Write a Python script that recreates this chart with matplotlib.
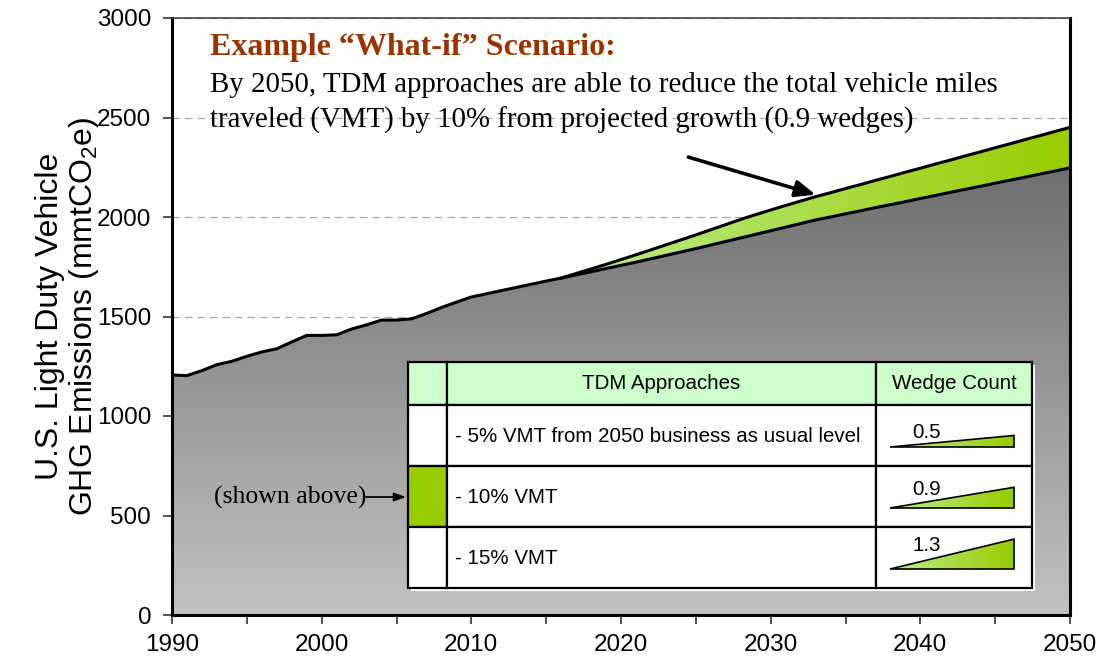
import numpy as np
import matplotlib.pyplot as plt
from matplotlib.colors import LinearSegmentedColormap
from matplotlib.patches import Rectangle, Polygon, PathPatch

plt.rcParams['font.family'] = ['Liberation Sans', 'DejaVu Sans']
plt.rcParams['mathtext.fontset'] = 'custom'
plt.rcParams['mathtext.rm'] = 'Liberation Sans'
plt.rcParams['mathtext.default'] = 'regular'

# business-as-usual emissions (mmtCO2e), 1990-2050
years = list(range(1990, 2051))
base = [1206, 1203, 1228, 1258, 1275, 1300, 1322, 1338, 1372, 1405,
        1405, 1408, 1437, 1458, 1482, 1482, 1488, 1515, 1545, 1572,
        1598, 1614, 1630, 1646, 1662, 1678, 1693, 1709, 1725, 1741,
        1757, 1773, 1790, 1807, 1824, 1841, 1859, 1877, 1895, 1913,
        1931, 1949, 1967, 1985, 2000, 2016, 2031, 2047, 2062, 2077,
        2093, 2108, 2124, 2139, 2154, 2170, 2185, 2200, 2216, 2231,
        2247]
# projected growth without the TDM wedge, 2016-2050
years_top = list(range(2016, 2051))
top = [1693, 1716, 1739, 1762, 1786, 1810, 1835, 1860, 1885, 1910,
       1936, 1962, 1988, 2012, 2035, 2058, 2080, 2102, 2122, 2143,
       2163, 2184, 2204, 2225, 2245, 2266, 2286, 2307, 2327, 2348,
       2368, 2389, 2409, 2430, 2450]

# table
approaches = ['- 5% VMT from 2050 business as usual level', '- 10% VMT', '- 15% VMT']
wedges = [0.5, 0.9, 1.3]
shown = 1

fig = plt.figure(figsize=(11.04, 6.65), dpi=100)
W, H = 1104, 665
ax = fig.add_axes([172 / W, 1 - 615 / H, (1070 - 172) / W, (615 - 18) / H])

gray_cm = LinearSegmentedColormap.from_list('g', ['#c2c2c2', '#6c6c6c'])
green_cm = LinearSegmentedColormap.from_list('gr', ['#bdeb8f', '#99cc00'])

# gray area with vertical gradient
poly = ax.fill_between(years, 0, base, color='none', lw=0)
clip = PathPatch(poly.get_paths()[0], transform=ax.transData, fc='none', ec='none')
ax.add_patch(clip)
grad = np.linspace(0, 1, 256).reshape(-1, 1)
im = ax.imshow(grad, extent=[1990, 2050, 0, 2300], origin='lower', aspect='auto',
               cmap=gray_cm, zorder=2)
im.set_clip_path(clip)

# green wedge with horizontal gradient
base_sub = base[years.index(2016):]
poly2 = ax.fill_between(years_top, base_sub, top, color='none', lw=0)
clip2 = PathPatch(poly2.get_paths()[0], transform=ax.transData, fc='none', ec='none')
ax.add_patch(clip2)
im2 = ax.imshow(grad.T, extent=[2016, 2050, 1600, 2500], origin='lower', aspect='auto',
                cmap=green_cm, zorder=2)
im2.set_clip_path(clip2)

ax.plot(years, base, color='k', lw=2.2, zorder=3, solid_joinstyle='round')
ax.plot(years_top, top, color='k', lw=2.2, zorder=3, solid_joinstyle='round')

ax.set_xlim(1990, 2050)
ax.set_ylim(0, 3000)
ax.set_xticks(range(1990, 2051, 10))
ax.set_xticks(range(1995, 2050, 10), minor=True)
ax.set_yticks(range(0, 3001, 500))
ax.tick_params(axis='both', which='both', direction='out', length=6.5, width=1.2,
               labelsize=17.5, color='#333333')
ax.tick_params(axis='x', pad=7)
ax.tick_params(axis='y', pad=8.5)
ax.yaxis.grid(True, linestyle=(0, (6, 4)), color='#a8a8a8', lw=0.9)
ax.set_axisbelow(True)
for s in ['left', 'bottom', 'right']:
    ax.spines[s].set_linewidth(2.2)
ax.spines['top'].set_linewidth(1.2)
ax.spines['top'].set_color('#444444')
for s in ax.spines.values():
    s.set_zorder(5)

ax.set_ylabel('U.S. Light Duty Vehicle\nGHG Emissions (mmtCO$_2$e)', fontsize=23,
              linespacing=1.1)
ax.yaxis.set_label_coords(-0.079, 0.5)

fig.text(210 / W, 1 - 48 / H, 'Example \u201cWhat-if\u201d Scenario:', family='Liberation Serif',
         fontsize=23, fontweight='bold', color='#993300', va='center')
fig.text(210 / W, 1 - 85 / H, 'By 2050, TDM approaches are able to reduce the total vehicle miles',
         family='Liberation Serif', fontsize=20.8, va='center')
fig.text(210 / W, 1 - 120 / H, 'traveled (VMT) by 10% from projected growth (0.9 wedges)',
         family='Liberation Serif', fontsize=20.8, va='center')

ax.annotate('', xy=(2033.0, 2112), xytext=(2024.5, 2301),
            arrowprops=dict(arrowstyle='-|>,head_width=0.5,head_length=1.2', lw=2.6,
                            color='k', shrinkA=0, shrinkB=0), zorder=6)

# table drawn in its own axes, in pixel units
cols = [408, 447, 876, 1032]
rows = [362, 405, 466, 527, 588]
tab = fig.add_axes([cols[0] / W, 1 - rows[-1] / H, (cols[-1] - cols[0]) / W,
                    (rows[-1] - rows[0]) / H])
tab.set_xlim(cols[0], cols[-1])
tab.set_ylim(rows[-1], rows[0])
tab.axis('off')

tab.add_patch(Rectangle((cols[0] + 3, rows[0] + 3), cols[-1] - cols[0], rows[-1] - rows[0],
                        fc='white', ec='none', clip_on=False, zorder=0))
for i in range(len(rows) - 1):
    for j in range(len(cols) - 1):
        fc = 'white'
        if i == 0:
            fc = '#ccffcc'
        elif j == 0 and i - 1 == shown:
            fc = '#99cc00'
        tab.add_patch(Rectangle((cols[j], rows[i]), cols[j + 1] - cols[j], rows[i + 1] - rows[i],
                                fc=fc, ec='k', lw=1.6, clip_on=False, zorder=1))

tab.text((cols[1] + cols[2]) / 2, (rows[0] + rows[1]) / 2, 'TDM Approaches',
         ha='center', va='center', fontsize=14.8)
tab.text((cols[2] + cols[3]) / 2, (rows[0] + rows[1]) / 2, 'Wedge Count',
         ha='center', va='center', fontsize=14.8)

for i, (lab, w) in enumerate(zip(approaches, wedges)):
    rt = rows[i + 1]
    tab.text(cols[1] + 8, (rt + rows[i + 2]) / 2 + 1, lab, ha='left', va='center', fontsize=14.8)
    bot = rt + 42
    hgt = 23 * w
    tri = Polygon([(890, bot), (1014, bot), (1014, bot - hgt)], closed=True,
                  fc='none', ec='k', lw=1.2, zorder=4)
    tab.add_patch(tri)
    gi = tab.imshow(grad.T, extent=[890, 1014, bot, bot - hgt], aspect='auto',
                    cmap=green_cm, zorder=3)
    gi.set_clip_path(tri)
    tab.text(927, bot - 8 - 12 * w, f'{w:.1f}', ha='center', va='center', fontsize=14.8)

tab.set_xlim(cols[0], cols[-1])
tab.set_ylim(rows[-1], rows[0])

tab.text(366, 497, '(shown above)', ha='right', va='center', family='Liberation Serif',
         fontsize=18.5)
tab.annotate('', xy=(406, 497), xytext=(366, 497), annotation_clip=False,
             arrowprops=dict(arrowstyle='-|>,head_width=0.25,head_length=0.7', lw=1.3,
                             color='k', shrinkA=0, shrinkB=0))

fig.savefig('out.png', dpi=100)
